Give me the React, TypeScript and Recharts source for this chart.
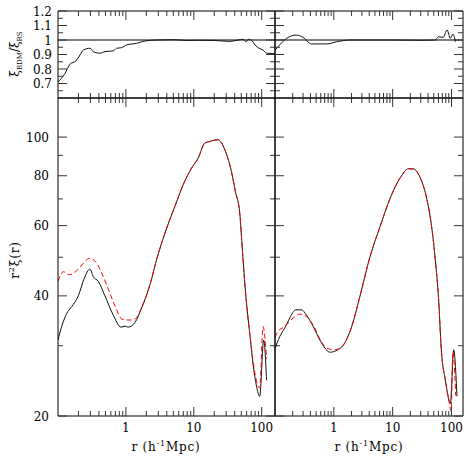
import React from 'react';
import { LineChart, Line, XAxis, YAxis, ReferenceLine } from 'recharts';

// x axis (h^-1 Mpc), log
const rDomain = [0.1, 157];
const xTicks = [0.2, 0.3, 0.4, 0.5, 0.6, 0.7, 0.8, 0.9, 1, 2, 3, 4, 5, 6, 7, 8, 9, 10, 20, 30, 40, 50, 60, 70, 80, 90, 100];
const xMajor = [1, 10, 100];

// ratio panels
const ratioDomain = [0.6, 1.2];
const ratioTicks = [0.65, 0.7, 0.75, 0.8, 0.85, 0.9, 0.95, 1, 1.05, 1.1, 1.15, 1.2];
const ratioLabels = [0.7, 0.8, 0.9, 1, 1.1, 1.2];

// r^2 xi panels, log
const xiDomain = [20, 125.3];
const xiTicks = [20, 30, 40, 50, 60, 70, 80, 90, 100];
const xiLabels = [20, 40, 60, 80, 100];

// top left: xi_BDM / xi_RS
const ratioLeftR = [0.1, 0.127, 0.15, 0.184, 0.211, 0.236, 0.296, 0.33, 0.415, 0.491, 0.651, 0.73, 0.865, 1.02, 1.44, 1.9, 2.83, 5, 8, 12, 20, 33.8, 45, 53, 59.6, 63, 70, 80, 90, 105, 118, 157];
const ratioLeftV = [0.71, 0.77, 0.833, 0.856, 0.897, 0.931, 0.943, 0.92, 0.909, 0.92, 0.925, 0.943, 0.947, 0.966, 0.977, 0.993, 1.0, 1.002, 0.997, 0.998, 0.997, 0.99, 1.0, 1.005, 0.988, 1.005, 1.0, 0.965, 0.945, 0.93, 0.91, 0.905];

// top right
const ratioRightR = [0.1, 0.12, 0.157, 0.232, 0.3, 0.418, 0.753, 1.12, 1.88, 10, 30, 53, 60.5, 72, 84.2, 95.8, 106, 117];
const ratioRightV = [0.93, 0.966, 1.011, 1.034, 1.018, 0.973, 0.973, 0.988, 1.0, 1.0, 0.998, 1.0, 1.023, 1.018, 1.069, 1.011, 1.04, 0.988];

// bottom left
const leftBlackR = [0.1, 0.113, 0.139, 0.159, 0.199, 0.244, 0.296, 0.33, 0.392, 0.491, 0.651, 0.845, 0.97, 1.08, 1.36, 1.7, 2.3, 2.83, 3.75, 5.26, 6.96, 9.25, 11.6, 14.5, 17.2, 22.8, 28.6, 35.8, 41, 47.5, 52, 57, 62, 67, 74.5, 83.7, 93.5, 107, 118];
const leftBlackV = [31.0, 33.5, 36.5, 37.6, 40.0, 44.3, 46.7, 44.7, 43.5, 40.0, 35.8, 33.4, 33.6, 33.4, 34.3, 37.3, 43.1, 49.3, 57.4, 67.0, 75.9, 83.6, 88.6, 96.6, 97.5, 98.5, 93.0, 82.0, 73.0, 64.5, 52.0, 42.0, 36.0, 32.0, 27.0, 23.8, 22.4, 31.0, 24.6];
const leftRedR = [0.1, 0.12, 0.142, 0.17, 0.199, 0.296, 0.371, 0.464, 0.582, 0.73, 0.87, 1.02, 1.2, 1.36, 1.7, 2.3, 2.83, 3.75, 5.26, 6.96, 9.25, 11.6, 14.5, 17.2, 22.8, 28.6, 35.8, 41, 47.5, 52, 57, 62, 67, 74.5, 83.7, 93.5, 104.6, 118];
const leftRedV = [43.5, 46.0, 45.2, 45.6, 46.7, 49.7, 48.3, 44.7, 40.6, 36.9, 35.0, 34.8, 34.8, 35.0, 37.3, 43.1, 49.3, 57.4, 67.0, 75.9, 83.6, 88.6, 96.6, 97.5, 98.5, 93.0, 82.0, 73.0, 64.5, 52.0, 42.0, 36.0, 32.0, 27.5, 24.5, 23.5, 33.5, 27.8];

// bottom right
const rightBlackR = [0.1, 0.12, 0.146, 0.178, 0.225, 0.282, 0.343, 0.446, 0.58, 0.705, 0.858, 1.12, 1.45, 2.01, 2.79, 4.13, 6.12, 9.07, 13.4, 18.6, 22.6, 29.5, 38.3, 46.7, 53.1, 60.5, 67.2, 78.7, 95.8, 109, 124];
const rightBlackV = [29.5, 31.6, 33.2, 35.2, 36.9, 36.9, 35.8, 33.5, 31.0, 29.6, 28.9, 29.2, 30.1, 33.5, 40.0, 50.2, 59.7, 70.3, 79.0, 83.3, 83.2, 79.0, 69.7, 58.6, 49.3, 39.1, 29.3, 24.6, 21.5, 29.3, 22.4];
const rightRedR = [0.1, 0.113, 0.146, 0.203, 0.264, 0.343, 0.446, 0.58, 0.754, 1.04, 1.36, 2.01, 2.79, 4.13, 6.12, 9.07, 13.4, 18.6, 22.6, 29.5, 38.3, 46.7, 53.1, 60.5, 67.2, 78.7, 90, 98.4, 106, 118];
const rightRedV = [31.5, 32.6, 33.5, 35.2, 36.0, 35.5, 33.8, 31.2, 29.6, 29.3, 29.8, 33.5, 40.0, 50.2, 59.7, 70.3, 79.0, 83.3, 83.2, 79.0, 69.7, 58.6, 49.3, 39.1, 29.3, 24.6, 22.0, 20.6, 29.0, 22.5];

const W = 474;
const X0 = 58, XM = 275, X1 = 463;
const Y0 = 11, YM = 98, Y1 = 416;
const FONT = 'DejaVu Serif';

const pts = (rs: number[], vs: number[]) => rs.map((r, i) => ({ r, v: vs[i] }));

const xTick = (side: 'top' | 'bottom', labels: boolean) => (p: any) => {
  const v = p.payload.value;
  const major = xMajor.includes(v);
  const len = major ? 9 : 5;
  const d = side === 'bottom' ? -1 : 1;
  return (
    <g>
      <line x1={p.x} y1={p.y} x2={p.x} y2={p.y + d * len} stroke="#333" />
      {labels && major && (
        <text x={p.x} y={p.y + 16} textAnchor="middle" fontFamily={FONT} fontSize={12} fill="#000">{v}</text>
      )}
    </g>
  );
};

const yTick = (side: 'left' | 'right', isMajor: (v: number) => boolean, labels: number[] | null, fmt: (v: number) => string, gap: number) => (p: any) => {
  const v = p.payload.value;
  const major = isMajor(v);
  const len = major ? 9 : 5;
  const d = side === 'left' ? 1 : -1;
  const show = labels && labels.some((l) => Math.abs(l - v) < 1e-9);
  return (
    <g>
      <line x1={p.x} y1={p.y} x2={p.x + d * len} y2={p.y} stroke="#333" />
      {show && (
        <text x={p.x - gap} y={p.y + 4.5} textAnchor="end" fontFamily={FONT} fontSize={12} fill="#000">{fmt(v)}</text>
      )}
    </g>
  );
};

type Series = { data: { r: number; v: number }[]; red?: boolean };

function Panel(props: {
  left: number; right: number; top: number; bottom: number;
  log: boolean; yDomain: number[]; yTicks: number[];
  isMajor: (v: number) => boolean; yLabels: number[] | null; fmt: (v: number) => string; gap: number;
  xLabels: boolean; series: Series[]; refOne?: boolean;
}) {
  const { left, right, top, bottom } = props;
  // every axis takes 1px of the margin, so the plot box lands on the given edges
  return (
    <div style={{ position: 'absolute', left: 0, top: 0 }}>
      <LineChart width={W} height={W} margin={{ left: left - 1, top: top - 1, right: W - right - 1, bottom: W - bottom - 1 }}>
        <XAxis xAxisId={0} dataKey="r" type="number" scale="log" domain={rDomain} allowDataOverflow ticks={xTicks} interval={0}
          height={1} tickSize={0} tickMargin={0} tickLine={false} axisLine={{ stroke: '#000' }} tick={xTick('bottom', props.xLabels)} />
        <XAxis xAxisId="top" orientation="top" dataKey="r" type="number" scale="log" domain={rDomain} allowDataOverflow ticks={xTicks} interval={0}
          height={1} tickSize={0} tickMargin={0} tickLine={false} axisLine={{ stroke: '#000' }} tick={xTick('top', false)} />
        <YAxis yAxisId={0} type="number" scale={props.log ? 'log' : 'linear'} domain={props.yDomain} allowDataOverflow ticks={props.yTicks} interval={0}
          width={1} tickSize={0} tickMargin={0} tickLine={false} axisLine={{ stroke: '#000' }}
          tick={yTick('left', props.isMajor, props.yLabels, props.fmt, props.gap)} />
        <YAxis yAxisId="right" orientation="right" type="number" scale={props.log ? 'log' : 'linear'} domain={props.yDomain} allowDataOverflow ticks={props.yTicks} interval={0}
          width={1} tickSize={0} tickMargin={0} tickLine={false} axisLine={{ stroke: '#000' }}
          tick={yTick('right', props.isMajor, null, props.fmt, props.gap)} />
        {props.refOne && <ReferenceLine y={1} stroke="#000" strokeWidth={1} />}
        {props.series.map((s, i) => (
          <Line key={i} data={s.data} dataKey="v" type="monotone" stroke={s.red ? '#ff0000' : '#111'} strokeWidth={1}
            strokeDasharray={s.red ? '5 3' : undefined} dot={false} isAnimationActive={false} />
        ))}
      </LineChart>
    </div>
  );
}

const ratioMajor = (v: number) => Math.abs(v * 10 - Math.round(v * 10)) < 1e-6;
const ratioFmt = (v: number) => (Math.abs(v - 1) < 1e-9 ? '1' : v.toFixed(1));
const xiMajor = (v: number) => v % 20 === 0;
const xiFmt = (v: number) => String(v);

export default function App() {
  return (
    <div style={{ position: 'absolute', left: 0, top: 0, width: W, height: W, background: '#fff' }}>
      <Panel left={X0} right={XM} top={Y0} bottom={YM} log={false} yDomain={ratioDomain} yTicks={ratioTicks}
        isMajor={ratioMajor} yLabels={ratioLabels} fmt={ratioFmt} gap={6} xLabels={false} refOne
        series={[{ data: pts(ratioLeftR, ratioLeftV) }]} />
      <Panel left={XM} right={X1} top={Y0} bottom={YM} log={false} yDomain={ratioDomain} yTicks={ratioTicks}
        isMajor={ratioMajor} yLabels={null} fmt={ratioFmt} gap={6} xLabels={false} refOne
        series={[{ data: pts(ratioRightR, ratioRightV) }]} />
      <Panel left={X0} right={XM} top={YM} bottom={Y1} log yDomain={xiDomain} yTicks={xiTicks}
        isMajor={xiMajor} yLabels={xiLabels} fmt={xiFmt} gap={9} xLabels
        series={[{ data: pts(leftBlackR, leftBlackV) }, { data: pts(leftRedR, leftRedV), red: true }]} />
      <Panel left={XM} right={X1} top={YM} bottom={Y1} log yDomain={xiDomain} yTicks={xiTicks}
        isMajor={xiMajor} yLabels={null} fmt={xiFmt} gap={9} xLabels
        series={[{ data: pts(rightBlackR, rightBlackV) }, { data: pts(rightRedR, rightRedV), red: true }]} />
      <svg width={W} height={W} style={{ position: 'absolute', left: 0, top: 0, pointerEvents: 'none' }}>
        <g fontFamily={FONT} fontSize={12} fill="#000" letterSpacing={0.8}>
          <text x={166} y={451} textAnchor="middle">
            r (h<tspan dy={-5} fontSize={8}>-1</tspan><tspan dy={5}>Mpc)</tspan>
          </text>
          <text x={369} y={451} textAnchor="middle">
            r (h<tspan dy={-5} fontSize={8}>-1</tspan><tspan dy={5}>Mpc)</tspan>
          </text>
          <text transform="rotate(-90 19 260)" x={19} y={260} textAnchor="middle">
            r<tspan dy={-5} fontSize={8}>2</tspan><tspan dy={5}>ξ(r)</tspan>
          </text>
          <text transform="rotate(-90 19 54)" x={19} y={54} textAnchor="middle" letterSpacing={0}>
            ξ<tspan dy={3} fontSize={7}>BDM</tspan><tspan dy={-3}>/ξ</tspan><tspan dy={3} fontSize={7}>RS</tspan>
          </text>
        </g>
      </svg>
    </div>
  );
}
